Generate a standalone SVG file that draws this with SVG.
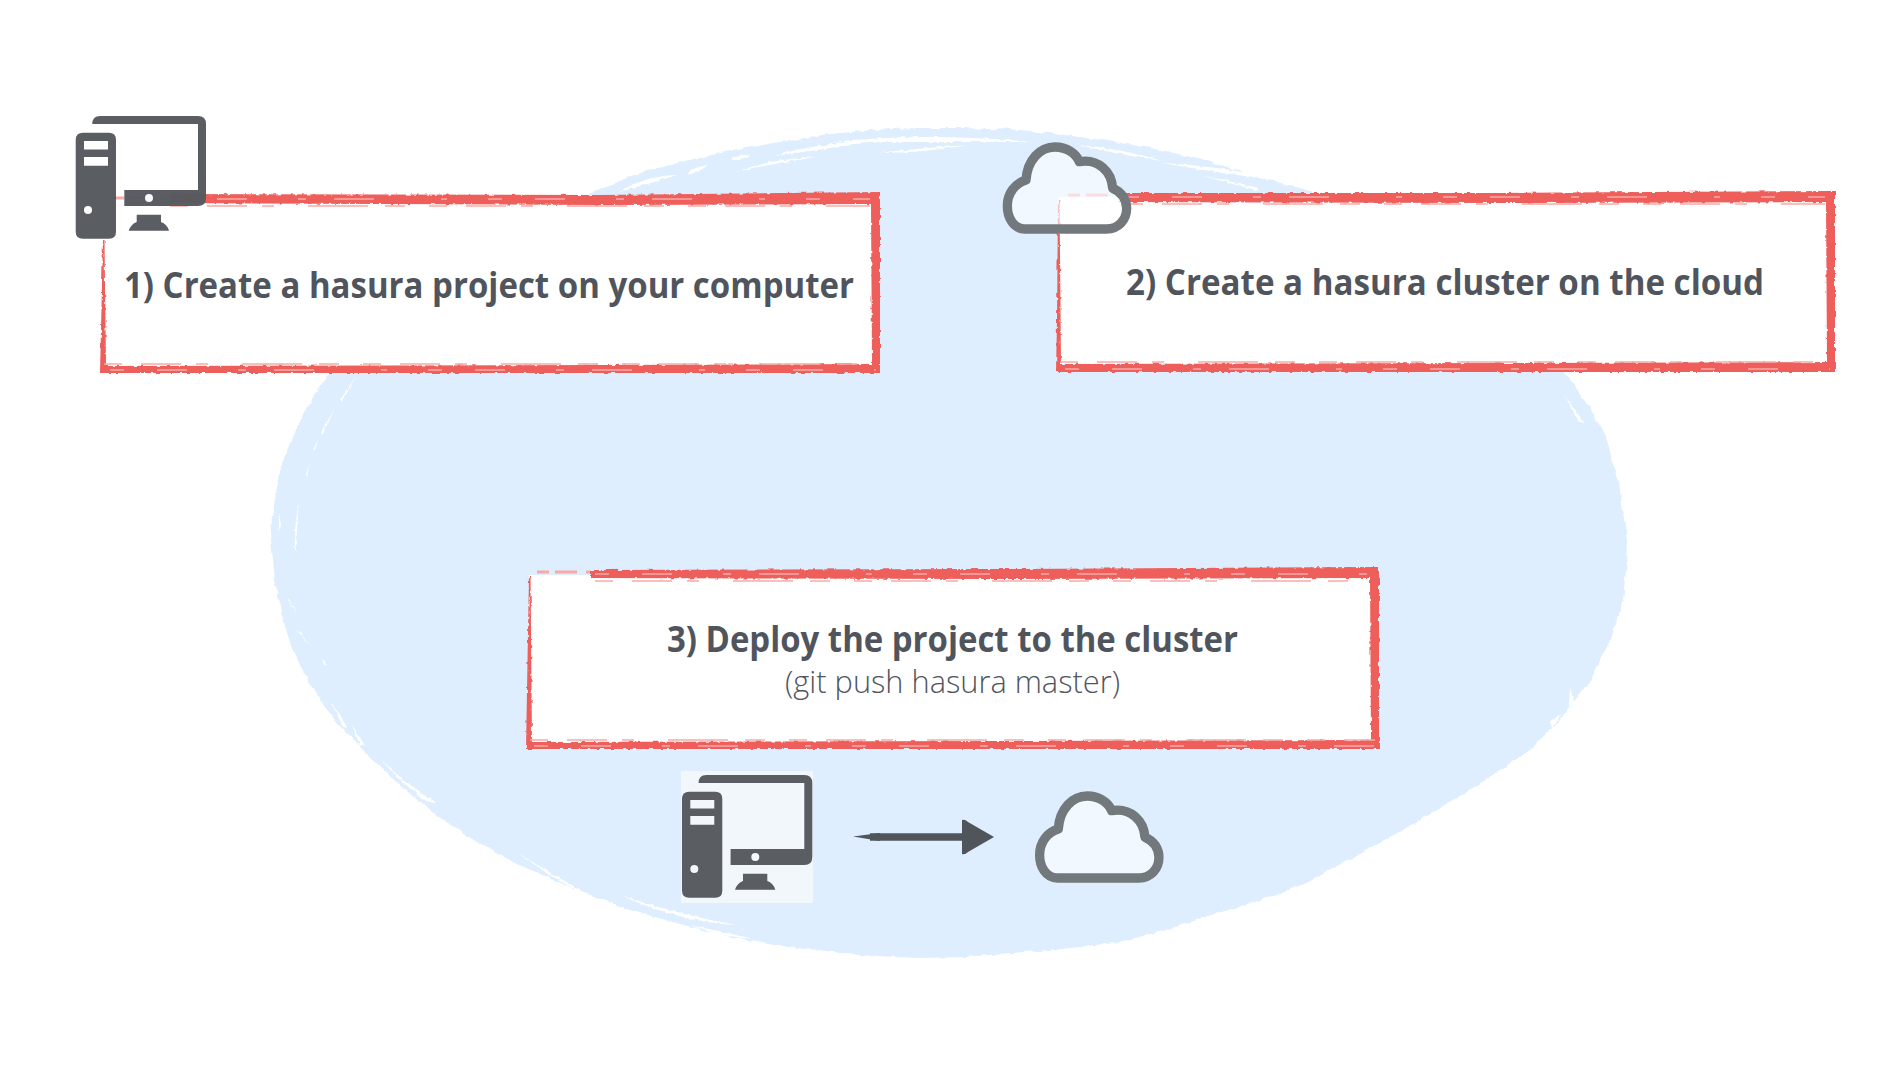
<svg xmlns="http://www.w3.org/2000/svg" xmlns:xlink="http://www.w3.org/1999/xlink" width="1900" height="1068" viewBox="0 0 1900 1068">
<style>
.blob{fill:#deeefe}
.brush{fill:#fff;stroke:none}
.paper{fill:#fff}
.red{fill:#ee5f5b}
.pink{fill:none;stroke:#f6aaa6;stroke-width:3;stroke-dasharray:12 6 22 9 5 4 16 7}
.streak{fill:none;stroke:#fff;stroke-width:1;opacity:.7;stroke-dasharray:14 33 30 51 8 28 40 67 6 41}
.fringe{fill:none;stroke:#f6aaa6;stroke-width:1.4;stroke-dasharray:18 19 40 15 12 34 60 17 20 24}
.title{font-family:"Open Sans","Noto Sans",sans-serif;font-weight:700;font-size:36px;fill:#50555d}
.sub{font-family:"Open Sans","Noto Sans",sans-serif;font-weight:300;font-size:31px;fill:#50555d}
.pc{fill:#55595e;fill-rule:evenodd;fill-opacity:.97}
.dot{fill:#f6f9fd}
.cl{fill:#fff;fill-opacity:.6;stroke:#73787c;stroke-width:28;stroke-linejoin:round}
.shaft{fill:none;stroke:#50545b;stroke-width:7.5}
</style>
<defs>
<filter id="rough" x="-3%" y="-4%" width="106%" height="108%" color-interpolation-filters="sRGB">
<feTurbulence type="fractalNoise" baseFrequency="0.18" numOctaves="2" seed="4"/>
<feDisplacementMap in="SourceGraphic" scale="3.5" xChannelSelector="R" yChannelSelector="G"/>
</filter>
<filter id="roughBlob" x="-2%" y="-2%" width="104%" height="104%" color-interpolation-filters="sRGB">
<feTurbulence type="fractalNoise" baseFrequency="0.09" numOctaves="3" seed="9"/>
<feDisplacementMap in="SourceGraphic" scale="5" xChannelSelector="R" yChannelSelector="G"/>
</filter>
<g id="computer">
<path class="pc" d="M83 132.7H109Q116 132.7 116 140V231.7Q116 238.7 109 238.7H83Q75.7 238.7 75.7 231.7V140Q75.7 132.7 83 132.7ZM84 141V149.5H108V141ZM84 157V165.7H108V157ZM84 210A4 4 0 1 0 92 210A4 4 0 1 0 84 210Z"/>
<path class="pc" d="M92.3 124Q92.3 116 100 116H198Q206 116 206 124V198Q206 206 198 206H124.3V190H198V124Z"/>
<circle class="dot" cx="149" cy="198" r="4"/>
<path class="pc" d="M136.7 214.7H161V222Q167 224 169 230.7H128.7Q131 224 136.7 222Z"/>
</g>
<g id="cloud"><path class="cl" d="M75 297C40 297 22 262 22 228C22 190 45 160 78 150C82 90 120 51 165 51C200 51 228 70 238 95C295 85 335 125 338 175C365 185 380 210 380 235C380 270 355 297 320 297Z"/></g>
<marker id="head" markerUnits="userSpaceOnUse" markerWidth="33" markerHeight="36" refX="0" refY="18" orient="auto"><path d="M0 1Q3 0 6 3L32 18L6 33Q3 36 0 35Z" fill="#50545b"/></marker>
</defs>
<rect width="1900" height="1068" fill="#fff"/>
<g id="backdrop">
<path class="blob" filter="url(#roughBlob)" d="M963 128L1020 130L1065 135L1115 142L1162 150L1215 163L1259 177L1307 190L1400 240L1500 310L1563 370L1590 408L1607 440L1620 490L1627 540L1626 570L1623 600L1610 642L1590 680L1562 718L1530 750L1470 790L1408 827L1355 857L1302 885L1257 901L1212 915L1163 931L1114 943L1062 949L1012 953L965 957L917 958L858 955L800 949L744 940L687 926L630 910L572 888L515 863L476 841L438 817L397 783L360 747L338 724L320 700L303 672L290 643L281 612L275 580L271 540L274 505L280 470L293 435L310 403L330 373L370 330L420 290L505 240L590 193L634 175L677 163L725 152L774 143L822 135L871 130L915 128Z"/>
<g class="brush" filter="url(#rough)">
<path d="M735 172Q775 158 817 157Q775 163 735 172Z"/><path d="M687 175Q690 168 708 165Q700 172 687 175ZM730 160Q740 154 750 155Q745 160 730 160Z"/><path d="M774 156Q820 142 880 140Q820 150 774 156Z"/><path d="M832 142Q930 132 1031 142Q930 142 832 142Z"/><path d="M880 153Q920 148 968 145Q920 153 880 153Z"/><path d="M1079 145Q1120 148 1162 161Q1120 155 1079 145Z"/><path d="M1162 163Q1225 166 1283 181Q1225 174 1162 163Z"/><path d="M1200 175L1259 188L1259 191Q1225 182 1200 175Z"/><path d="M619 192Q645 176 677 175Q645 185 619 192Z"/>
<path d="M340 400L358 375L341 402Z"/><path d="M321 433L335 408L323 434Z"/><path d="M313 450L318 440L315 450Z"/><path d="M305 476L310 463L307 476Z"/><path d="M295 552Q294 525 299 500Q297 525 296 552Z"/><path d="M279 532L279 512L281 525Z"/><path d="M296 613L287 598L290 600Z"/><path d="M313 650L297 630L300 632Z"/><path d="M322 658L325 666L327 664Z"/><path d="M330 700L347 727L343 727Z"/><path d="M352 725L365 745L360 745Z"/><path d="M380 758Q405 785 437 803Q405 790 380 758Z"/>
<path d="M400 780L436 803L425 801Z"/><path d="M517 852Q560 880 600 900Q560 885 517 852Z"/><path d="M620 895Q680 915 736 925Q680 922 620 895Z"/><path d="M690 925L755 939L720 935Z"/><path d="M770 945Q815 950 860 955Q815 955 770 945Z"/>
<path d="M1565 396L1585 424L1578 420Z"/><path d="M1570 688L1575 705L1569 705Z"/><path d="M1550 722L1562 714L1552 728Z"/>
</g>
</g>
<g id="node-1">
<rect class="paper" x="104" y="200" width="770" height="167"/>
<path class="pink" d="M112 198H170"/>
<path class="red" filter="url(#rough)" d="M170 194L600 195L880 192V373H100L101 330L103 240H104.5L106 366L600 365L872 364L871 204L600 205L170 203Z"/>
<path class="streak" d="M170 199H870M110 370H876"/>
<path class="fringe" d="M170 206H870M104 364H870"/>
<text class="title" x="124" y="298" textLength="730" lengthAdjust="spacingAndGlyphs">1) Create a hasura project on your computer</text>
</g>
<use id="icon-computer-1" href="#computer" xlink:href="#computer"/>
<g id="node-2">
<rect class="paper" x="1059" y="197" width="770" height="167"/>
<path class="pink" d="M1068 195H1122"/>
<path class="red" filter="url(#rough)" d="M1120 193L1500 193L1835 191V372H1056L1057 320L1058 199H1059.5L1061 364L1500 363L1827 362L1826 202L1500 203L1120 202Z"/>
<path class="streak" d="M1125 197H1825M1065 369H1830"/>
<path class="fringe" d="M1125 204H1825M1060 362H1825"/>
<text class="title" x="1126" y="295" textLength="638" lengthAdjust="spacingAndGlyphs">2) Create a hasura cluster on the cloud</text>
</g>
<use id="icon-cloud-1" href="#cloud" xlink:href="#cloud" transform="translate(1000 130) scale(.3333)"/>
<g id="node-3">
<rect class="paper" x="529" y="575" width="844" height="168"/>
<path class="pink" d="M537 572H596"/>
<path class="red" filter="url(#rough)" d="M590 570L1000 569L1379 567V749H526L527 690L529 575H530.5L532 742L1000 741L1371 740L1370 578L1000 579L590 578Z"/>
<path class="streak" d="M595 574H1368M534 746H1375"/>
<path class="fringe" d="M595 581H1368M530 740H1375"/>
<text class="title" x="667" y="652" textLength="571" lengthAdjust="spacingAndGlyphs">3) Deploy the project to the cluster</text>
<text class="sub" x="785" y="693" textLength="335" lengthAdjust="spacingAndGlyphs">(git push hasura master)</text>
</g>
<g id="node-computer-2">
<rect x="681" y="771" width="132" height="132" fill="#f2f7fc"/>
<use href="#computer" xlink:href="#computer" transform="translate(606.3 659)"/>
</g>
<use id="node-cloud-2" href="#cloud" xlink:href="#cloud" transform="translate(1032.3 779) scale(.3333)"/>
<g id="connectors">
<path d="M853 836.5L880 833V841Z" fill="#50545b"/>
<path class="shaft" d="M870 837H962" marker-end="url(#head)"/>
</g>
</svg>
